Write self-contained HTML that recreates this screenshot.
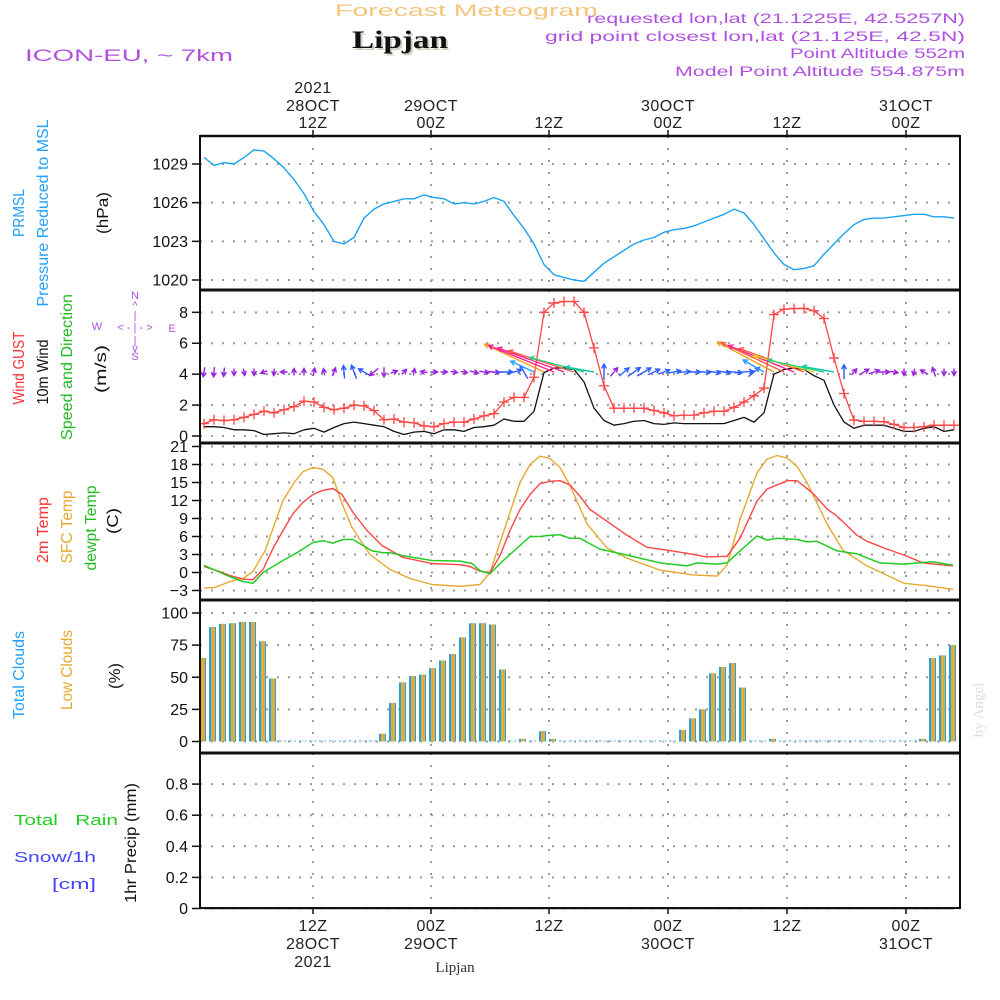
<!DOCTYPE html>
<html><head><meta charset="utf-8"><title>Meteogram Lipjan</title>
<style>
html,body{margin:0;padding:0;background:#fff;}
svg{display:block;font-family:"Liberation Sans Narrow","Liberation Sans",sans-serif;}
</style></head>
<body>
<svg id="chart" width="1000" height="1000" viewBox="0 0 1000 1000" xmlns="http://www.w3.org/2000/svg">
<rect width="1000" height="1000" fill="#fff"/>
<text x="335" y="16" font-family="Liberation Sans" font-size="17" fill="#f3c67c" textLength="263" lengthAdjust="spacingAndGlyphs">Forecast Meteogram</text>
<text x="354" y="50" font-family="Liberation Serif" font-weight="bold" font-size="25" fill="#c8d4c0" textLength="96" lengthAdjust="spacingAndGlyphs">Lipjan</text>
<text x="352" y="48" font-family="Liberation Serif" font-weight="bold" font-size="25" fill="#111" textLength="96" lengthAdjust="spacingAndGlyphs">Lipjan</text>
<text x="25" y="61" font-family="Liberation Sans" font-size="17" fill="#b050e0" textLength="208" lengthAdjust="spacingAndGlyphs">ICON-EU, ~ 7km</text>
<g font-family="Liberation Sans" font-size="14" fill="#b050e0" text-anchor="end">
<text x="965" y="23" textLength="378" lengthAdjust="spacingAndGlyphs">requested lon,lat (21.1225E, 42.5257N)</text>
<text x="965" y="41" textLength="420" lengthAdjust="spacingAndGlyphs">grid point closest lon,lat (21.125E, 42.5N)</text>
<text x="965" y="58" textLength="175" lengthAdjust="spacingAndGlyphs">Point Altitude 552m</text>
<text x="965" y="76" textLength="290" lengthAdjust="spacingAndGlyphs">Model Point Altitude 554.875m</text>
</g>
<g id="grid"></g>
<g id="marks"></g>
<g id="frames"></g>
<g id="axes" font-size="16" fill="#111"></g>
<g font-size="16" font-family="Liberation Sans">
<text transform="translate(24,213) rotate(-90)" text-anchor="middle" fill="#22a0ff" textLength="48" lengthAdjust="spacingAndGlyphs">PRMSL</text>
<text transform="translate(48,213) rotate(-90)" text-anchor="middle" fill="#22a0ff" textLength="187" lengthAdjust="spacingAndGlyphs">Pressure Reduced to MSL</text>
<text transform="translate(108,213) rotate(-90)" text-anchor="middle" fill="#111" textLength="42" lengthAdjust="spacingAndGlyphs">(hPa)</text>
<text transform="translate(24,368) rotate(-90)" text-anchor="middle" fill="#ff3333" textLength="73" lengthAdjust="spacingAndGlyphs">Wind GUST</text>
<text transform="translate(48,372) rotate(-90)" text-anchor="middle" fill="#111" textLength="65" lengthAdjust="spacingAndGlyphs">10m Wind</text>
<text transform="translate(72,367) rotate(-90)" text-anchor="middle" fill="#22bb22" textLength="146" lengthAdjust="spacingAndGlyphs">Speed and Direction</text>
<text transform="translate(106,369) rotate(-90)" text-anchor="middle" fill="#111" textLength="48" lengthAdjust="spacingAndGlyphs">(m/s)</text>
<text transform="translate(48,530) rotate(-90)" text-anchor="middle" fill="#ff3333" textLength="66" lengthAdjust="spacingAndGlyphs">2m Temp</text>
<text transform="translate(72,527) rotate(-90)" text-anchor="middle" fill="#e8a830" textLength="73" lengthAdjust="spacingAndGlyphs">SFC Temp</text>
<text transform="translate(96,528) rotate(-90)" text-anchor="middle" fill="#22bb22" textLength="85" lengthAdjust="spacingAndGlyphs">dewpt Temp</text>
<text transform="translate(118,521) rotate(-90)" text-anchor="middle" fill="#111" textLength="26" lengthAdjust="spacingAndGlyphs">(C)</text>
<text transform="translate(24,675) rotate(-90)" text-anchor="middle" fill="#22a0ff" textLength="88" lengthAdjust="spacingAndGlyphs">Total Clouds</text>
<text transform="translate(72,670) rotate(-90)" text-anchor="middle" fill="#e8a830" textLength="80" lengthAdjust="spacingAndGlyphs">Low Clouds</text>
<text transform="translate(120,676) rotate(-90)" text-anchor="middle" fill="#111" textLength="26" lengthAdjust="spacingAndGlyphs">(%)</text>
<text transform="translate(136,843) rotate(-90)" text-anchor="middle" fill="#111" textLength="120" lengthAdjust="spacingAndGlyphs">1hr Precip (mm)</text>
</g>
<g font-family="Liberation Sans" font-size="15">
<text x="14" y="825" fill="#22cc22" textLength="104" lengthAdjust="spacingAndGlyphs" xml:space="preserve">Total   Rain</text>
<text x="14" y="862" fill="#4444ff" textLength="82" lengthAdjust="spacingAndGlyphs">Snow/1h</text>
<text x="52" y="889" fill="#4444ff" textLength="44" lengthAdjust="spacingAndGlyphs">[cm]</text>
</g>
<g font-family="Liberation Sans" font-size="11" fill="#b050e0" text-anchor="middle">
<text x="135" y="299">N</text><text x="135" y="309">^</text><text x="135" y="319">|</text>
<text x="135" y="331" xml:space="preserve">&lt; - | - &gt;</text>
<text x="97" y="330">W</text><text x="172" y="332">E</text>
<text x="135" y="344">|</text><text x="135" y="352">v</text><text x="135" y="360">S</text>
</g>
<text x="455" y="972" text-anchor="middle" font-family="Liberation Serif" font-size="15" fill="#333">Lipjan</text>
<text transform="translate(983,710) rotate(-90)" text-anchor="middle" font-family="Liberation Serif" font-size="15" fill="#dddddd">by Angel</text>
<script>
// ---------- DATA ----------
const tickHours = [11.9, 23.7, 35.5, 47.4, 59.3, 71.2];
const topTickLabels = [["2021","28OCT","12Z"],["","29OCT","00Z"],["","","12Z"],["","30OCT","00Z"],["","","12Z"],["","31OCT","00Z"]];
const bottomTickLabels = [["12Z","28OCT","2021"],["00Z","29OCT",""],["12Z","",""],["00Z","30OCT",""],["12Z","",""],["00Z","31OCT",""]];
const pressureTicks = [1020, 1023, 1026, 1029];
const windTicks = [0, 2, 4, 6, 8];
const tempTicks = [-3, 0, 3, 6, 9, 12, 15, 18, 21];
const cloudTicks = [0, 25, 50, 75, 100];
const precipTicks = [0, 0.2, 0.4, 0.6, 0.8];
const precipTickLabels = ["0", "0.2", "0.4", "0.6", "0.8"];

const pressure = [1029.5,1028.9,1029.1,1029.0,1029.5,1030.1,1030.0,1029.4,1028.7,1027.8,
1026.7,1025.3,1024.3,1023.0,1022.8,1023.3,1024.8,1025.5,1025.9,1026.1,
1026.3,1026.3,1026.6,1026.4,1026.3,1025.9,1026.0,1025.9,1026.1,1026.4,
1026.1,1025.0,1024.0,1022.8,1021.2,1020.4,1020.2,1020.0,1019.9,1020.6,
1021.3,1021.8,1022.3,1022.8,1023.1,1023.3,1023.7,1023.9,1024.0,1024.2,
1024.5,1024.8,1025.1,1025.5,1025.2,1024.3,1023.2,1022.1,1021.2,1020.8,
1020.9,1021.1,1022.0,1022.8,1023.6,1024.3,1024.7,1024.8,1024.8,1024.9,
1025.0,1025.1,1025.1,1024.9,1024.9,1024.8];
const windGust = [0.8,1.05,1.0,1.05,1.2,1.4,1.6,1.5,1.7,1.9,
2.25,2.2,1.85,1.7,1.8,2.0,1.95,1.65,1.05,1.1,
0.9,0.85,0.65,0.6,0.8,0.9,0.9,1.1,1.3,1.45,
2.2,2.5,2.5,3.8,8.0,8.6,8.7,8.7,8.0,5.7,
3.25,1.8,1.8,1.8,1.8,1.65,1.5,1.3,1.35,1.35,
1.5,1.6,1.6,1.85,2.2,2.6,3.1,7.85,8.2,8.25,
8.25,8.1,7.6,5.05,2.75,1.03,0.95,0.95,0.92,0.75,
0.55,0.55,0.6,0.7,0.7,0.7];
const windSpeed = [0.6,0.6,0.55,0.4,0.4,0.35,0.1,0.15,0.2,0.15,
0.4,0.5,0.25,0.55,0.8,0.9,0.8,0.7,0.6,0.3,
0.1,0.25,0.3,0.15,0.4,0.4,0.3,0.55,0.6,0.7,
1.1,0.95,0.95,1.6,4.1,4.4,4.4,4.3,3.5,1.8,
1.0,0.7,0.8,0.95,1.0,0.8,0.75,0.85,0.8,0.8,
0.8,0.8,0.8,1.0,1.2,0.9,1.5,4.0,4.3,4.4,
4.3,3.9,3.6,2.0,0.9,0.5,0.7,0.7,0.7,0.5,
0.3,0.3,0.5,0.6,0.3,0.4];
const windDir = [260,265,265,270,280,270,200,265,180,90,
90,80,100,70,95,110,150,220,270,20,
45,80,170,0,0,350,350,345,350,355,
0,15,120,155,155,158,160,162,165,170,
90,50,40,35,30,25,20,10,5,0,
355,350,350,355,5,40,150,152,155,158,
160,165,168,170,90,50,30,20,0,350,
270,260,150,110,270,270];

const sfcTempHours = [1,2.1,3.6,4.9,5.9,7.1,8.9,10.1,10.9,11.9,12.9,13.9,14.8,15.8,17.6,19.6,21.6,23.8,26.6,28.6,29.6,30.6,31.6,32.6,33.6,34.6,35.6,36.6,37.6,39.3,41.3,43.3,46.6,49.9,52.3,53.3,54.6,56.3,57.3,58.3,59.3,60.3,61.3,63.3,64.9,67.3,71,73.3,75.9];
const sfcTemp = [-2.6,-2.5,-1.5,-1,0.2,3.6,12,15.2,16.8,17.5,17.2,15.8,11.5,7.5,3,0.5,-1,-2,-2.3,-2,0,5,10,15,18,19.4,19,17.5,14.5,8.1,4.1,2.4,0.4,-0.4,-0.6,1.2,8.8,16.6,18.9,19.5,19.1,17.7,15,8.1,3.7,1.1,-1.8,-2.2,-2.8];
const temp2mHours = [1,2.3,3.6,4.9,5.9,6.9,7.9,8.9,9.9,10.9,11.9,12.9,13.9,14.8,15.9,17.3,18.8,20.9,23.8,26.6,27.6,28.6,29.6,30.6,31.6,32.6,33.6,34.6,35.6,36.6,37.6,38.6,39.6,41.6,43.3,45.3,47.4,49.3,51.3,53.3,54.6,56.3,57.3,59.3,60.3,61.9,63.3,64.3,66.3,67.3,69.3,71,72.9,75.9];
const temp2m = [1,0.3,-0.5,-1.1,-1.2,0.5,4,7,9.8,11.7,13,13.7,14,13,10,7,4.5,2.5,1.5,1.3,1,0.2,0,2.8,7,10.5,13,14.8,15.2,15.3,14.6,12.7,10.5,8.2,6.2,4.2,3.7,3.2,2.6,2.7,5.7,11.9,13.9,15.3,15.3,13.2,10.6,9.4,6.2,5.2,3.9,2.9,1.6,1.1];
const dewptHours = [1,3.3,4.9,5.9,6.9,8.9,10.3,11.9,12.9,13.9,14.9,15.9,17.8,18.9,19.6,20.9,23.8,26.6,27.8,28.6,29.6,30.6,31.6,33.6,34.6,35.6,36.6,37.6,38.6,40.6,43.3,46.6,49.3,50.3,52.3,53.3,54.6,56.3,57.3,58.3,60.3,61.3,62.3,64.3,66.3,68.6,70.9,73.9,75.9];
const dewpt = [1.2,-0.5,-1.5,-1.8,0,2,3.3,5,5.3,4.9,5.5,5.5,3.6,3.3,3.3,2.8,2,1.9,1.5,0.3,-0.2,1.5,3,6,6,6.2,6.3,5.7,5.7,3.9,2.9,1.6,1.1,1.6,1.4,1.6,3.6,6.1,5.4,5.7,5.5,5.1,5.2,3.6,3.1,1.6,1.4,1.8,1.2];

const totalClouds = [65,89,91.5,92,93,93,78,49,0,0,
0,0,0,0,0,0,0,0,6,30,
46,51,52,57,63,68,81,92,92,91,
56,0,2,0,8,2,0,0,0,0,
0,0,0,0,0,0,0,0,9,18,
25,53,58,61,42,0,0,2,0,0,
0,0,0,0,0,0,0,0,0,0,
0,0,2,65,67,75,89];
const lowClouds = totalClouds.slice();
const precip = new Array(76).fill(0);

// ---------- SCALES ----------
const X0 = 200, X1 = 960;
const xH = h => 194 + 10 * h;
const yP = p => 280 - (p - 1020) * 12.89;
const yW = v => 436 - v * 15.46;
const yT = t => 572.5 - t * 6;
const yC = c => 741.5 - c * 1.285;
const yR = r => 908.5 - r * 155.5;
const panels = [[136,290],[290,443],[443,600],[600,753],[753,908]];

const NS = "http://www.w3.org/2000/svg";
function mk(parent, tag, attrs){ const e=document.createElementNS(NS,tag); for(const k in attrs) e.setAttribute(k,attrs[k]); parent.appendChild(e); return e; }
const grid = document.getElementById('grid');
const marks = document.getElementById('marks');
const frames = document.getElementById('frames');
const axes = document.getElementById('axes');

function hgrid(ticks, yf, name){
  ticks.forEach(t=>{
    const l = mk(grid,'line',{x1:X0,x2:X1,y1:yf(t),y2:yf(t),stroke:'#9a9a9a','stroke-width':2,'stroke-dasharray':'2,9'});
    
    
  });
}
hgrid(pressureTicks, yP, 'pressure-gridline');
hgrid(windTicks, yW, 'wind-gridline');
hgrid(tempTicks, yT, 'temp-gridline');
hgrid(cloudTicks, yC, 'cloud-gridline');
hgrid(precipTicks, yR, 'precip-gridline');
tickHours.forEach(h=>{
  panels.forEach(p=>{
    const l = mk(grid,'line',{x1:xH(h),x2:xH(h),y1:p[0],y2:p[1],stroke:'#9a9a9a','stroke-width':2,'stroke-dasharray':'2,10'});
    
    
  });
});

const defs = mk(marks,'defs',{});
const cp = mk(defs,'clipPath',{id:'plotclip'});
mk(cp,'rect',{x:X0,y:130,width:X1-X0,height:790});
const g = mk(marks,'g',{'clip-path':'url(#plotclip)'});

function polyline(hours, vals, yf, color, name, w){
  const pts = vals.map((v,i)=> xH(hours[i]).toFixed(1)+','+yf(v).toFixed(1)).join(' ');
  const pl = mk(g,'polyline',{points:pts,fill:'none',stroke:color,'stroke-width':w||1.4,'stroke-linejoin':'round'});
  
  
  return pl;
}
const hourly = pressure.map((_,i)=>i+1);

polyline(hourly, pressure, yP, '#1aa3f0', 'pressure-line', 1.4);
polyline(hourly, windSpeed, yW, '#111', 'wind-speed-line', 1.3);
polyline(hourly, windGust, yW, '#ff4444', 'wind-gust-line', 1.3);
windGust.forEach((v,i)=>{
  const x = xH(i+1), y = yW(v);
  const m = mk(g,'path',{d:`M${x-5},${y}H${x+5}M${x},${y-5}V${y+5}`,stroke:'#ff4444','stroke-width':1.3});
  
  
});

function arrowColor(v){
  if(v<0.75) return '#9a1ee0';
  if(v<1.3) return '#2a5cff';
  if(v<1.7) return '#22a0ff';
  if(v<2.2) return '#10c8a0';
  if(v<3.7) return '#20d080';
  if(v<3.95) return '#e8d020';
  if(v<4.15) return '#f0a020';
  if(v<4.35) return '#ff5a40';
  return '#ff2090';
}
windSpeed.forEach((v,i)=>{
  const L = Math.max(7, v*16);
  const a = windDir[i]*Math.PI/180;
  const dx = Math.cos(a), dy = -Math.sin(a);
  const bx = xH(i+1), by = 372;
  let sx, sy;
  if(L>20){ sx = bx; sy = by; } else { sx = bx - dx*L/2; sy = by - dy*L/2; }
  const ex = sx + dx*L, ey = sy + dy*L;
  const hl = 5, ha = 0.5;
  const b = Math.atan2(-dy,-dx);
  const h1x = ex + hl*Math.cos(b+ha), h1y = ey + hl*Math.sin(b+ha);
  const h2x = ex + hl*Math.cos(b-ha), h2y = ey + hl*Math.sin(b-ha);
  const p = mk(g,'path',{d:`M${sx.toFixed(1)},${sy.toFixed(1)}L${ex.toFixed(1)},${ey.toFixed(1)}M${h1x.toFixed(1)},${h1y.toFixed(1)}L${ex.toFixed(1)},${ey.toFixed(1)}L${h2x.toFixed(1)},${h2y.toFixed(1)}`,stroke:arrowColor(v),'stroke-width':1.4,fill:'none'});
  
  
});

polyline(sfcTempHours, sfcTemp, yT, '#e8a830', 'sfc-temp-line', 1.4);
polyline(temp2mHours, temp2m, yT, '#ff4444', 'temp-2m-line', 1.4);
polyline(dewptHours, dewpt, yT, '#22cc22', 'dewpt-line', 1.5);

totalClouds.forEach((c,k)=>{
  const x = 199 + 10*k;
  const yb = yC(0);
  const ht = Math.max(1, yb - yC(c));
  const r1 = mk(g,'rect',{x:x,y:yb-ht,width:7,height:ht,fill:'#1aa3f0'});
  
  
  const hl = Math.max(1, yb - yC(lowClouds[k]));
  const r2 = mk(g,'rect',{x:x+2,y:yb-hl,width:4,height:hl,fill:lowClouds[k]>0?'#e8aa30':'#d8d8d8'});
  
  
});

polyline(hourly, precip, yR, '#111', 'precip-line', 1.5);

panels.forEach((p,i)=>{
  const r = mk(frames,'rect',{x:X0,y:p[0],width:X1-X0,height:p[1]-p[0],fill:'none',stroke:'#111','stroke-width':2});
  
  
});
mk(frames,'line',{x1:X0,x2:X1,y1:136,y2:136,stroke:'#111','stroke-width':2.5});
panels.slice(1).forEach(p=>{ mk(frames,'line',{x1:X0,x2:X1,y1:p[0],y2:p[0],stroke:'#111','stroke-width':3}); });

function yaxis(ticks, labels, yf, name){
  ticks.forEach((t,i)=>{
    const y = yf(t);
    mk(axes,'line',{x1:192,x2:X0,y1:y,y2:y,stroke:'#111','stroke-width':1.5});
    const tx = mk(axes,'text',{x:188,y:y+5.5,'text-anchor':'end','font-family':'Liberation Sans','font-size':16});
    tx.textContent = labels[i];
    
    
  });
}
yaxis(pressureTicks, pressureTicks.map(String), yP, 'pressure-tick-label');
yaxis(windTicks, windTicks.map(String), yW, 'wind-tick-label');
yaxis(tempTicks, tempTicks.map(t=>t<0?'\u2212'+(-t):String(t)), yT, 'temp-tick-label');
yaxis(cloudTicks, cloudTicks.map(String), yC, 'cloud-tick-label');
yaxis(precipTicks, precipTickLabels, yR, 'precip-tick-label');

tickHours.forEach((h,i)=>{
  const x = xH(h);
  mk(axes,'line',{x1:x,x2:x,y1:136,y2:130,stroke:'#111','stroke-width':1.5});
  mk(axes,'line',{x1:x,x2:x,y1:908,y2:914,stroke:'#111','stroke-width':1.5});
  [93,111,128].forEach((y,j)=>{
    const s = topTickLabels[i][j]; if(!s) return;
    const t = mk(axes,'text',{x:x,y:y,'text-anchor':'middle','font-family':'Liberation Sans','font-size':16,fill:'#222','letter-spacing':'0.5'});
    t.textContent = s;
    
    
  });
  [931,949,967].forEach((y,j)=>{
    const s = bottomTickLabels[i][j]; if(!s) return;
    const t = mk(axes,'text',{x:x,y:y,'text-anchor':'middle','font-family':'Liberation Sans','font-size':16,fill:'#222','letter-spacing':'0.5'});
    t.textContent = s;
    
    
  });
});
</script>
</svg>
</body></html>
